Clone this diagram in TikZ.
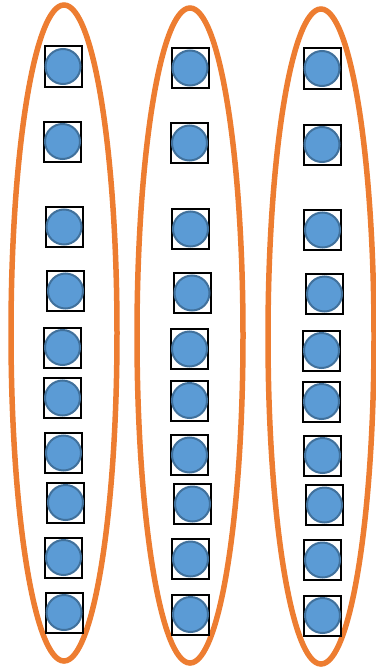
\documentclass[tikz,border=0pt]{standalone}
\usetikzlibrary{shapes.geometric}
\definecolor{corange}{HTML}{ED7D31}
\definecolor{cblue}{HTML}{5B9BD5}
\definecolor{cblueline}{HTML}{41719C}
\tikzset{
  every picture/.style={line width=1pt},
  group/.style={draw=corange, ellipse, line width=5.5pt, minimum width=106pt, minimum height=655pt, inner sep=0pt},
  cell/.style={draw=black, line width=2pt, minimum width=37pt, minimum height=40pt, inner sep=0pt},
  dot/.style={circle, draw=cblueline, fill=cblue, line width=2pt, minimum size=35pt, inner sep=0pt},
}

\begin{document}
\begin{tikzpicture}[x=1pt, y=-1pt]
  \useasboundingbox (0,0) rectangle (375,669);
  % the three groups
  \node[group, minimum height=656pt] (ga) at (64,333) {};
  \node[group] (gb) at (190,335.5) {};
  \node[group] (gc) at (321,336.5) {};
  % first group
  \foreach \x/\y [count=\i] in {63/66.5, 62.5/141.5, 64/227, 65.5/291, 62.5/347.5, 62.5/398, 63.5/453, 65.5/502.5, 63.5/557.5, 64/612.5}{
    \node[cell] (ca\i) at (\x,\y) {};
    \node[dot] (da\i) at (ca\i) {};
  }
  % second group
  \foreach \x/\y [count=\i] in {190/68, 189.5/143, 190.5/229, 192/293, 189.5/349, 189.5/400.5, 189.5/455, 192.5/504, 190.5/559, 190.5/614.5}{
    \node[cell] (cb\i) at (\x,\y) {};
    \node[dot] (db\i) at (cb\i) {};
  }
  % third group
  \foreach \x/\y [count=\i] in {322/68.5, 322/144.5, 322.5/230, 324.5/294, 321.5/350.5, 321.5/401.5, 322.5/455.5, 324.5/505, 322.5/560, 322.5/615.5}{
    \node[cell] (cc\i) at (\x,\y) {};
    \node[dot] (dc\i) at (cc\i) {};
  }
\end{tikzpicture}
\end{document}
